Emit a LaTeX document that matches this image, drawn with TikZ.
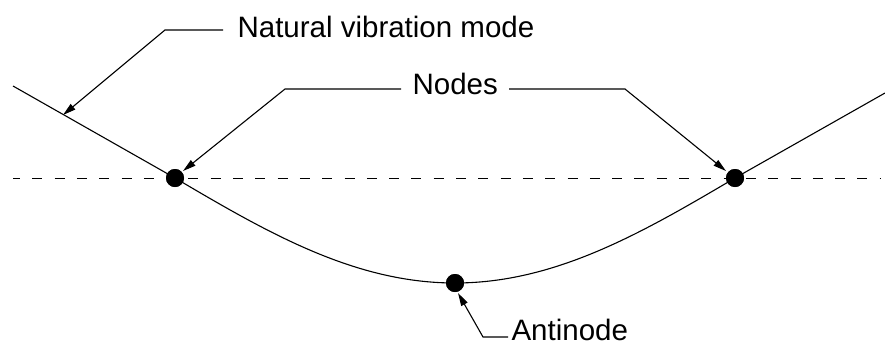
\documentclass[tikz,border=0pt]{standalone}
\usepackage{fontspec}
\setmainfont{Liberation Sans}
\usetikzlibrary{arrows.meta}
\begin{document}
\begin{tikzpicture}[x=1pt,y=-1pt,
  line width=1.1pt,
  dot/.style={circle,fill=black,inner sep=0pt,minimum size=18pt},
  lbl/.style={anchor=base west,inner sep=0pt,font=\fontsize{29.5}{32}\selectfont},
  leader/.style={line width=1.1pt,-{Triangle[length=13pt,width=7pt]}},
  axisline/.style={line width=0.9pt,dash pattern=on 10pt off 12.3pt,dash phase=3pt}]
\useasboundingbox (0,0) rectangle (885,349);
% axis
\coordinate (axL) at (13,178);
\coordinate (axR) at (880,178);
\draw[axisline] (axL) -- (axR);
% mode shape
\coordinate (lEnd) at (13,86);
\coordinate (rEnd) at (885,93);
\node[dot] (n1) at (175,178) {};
\node[dot] (n2) at (735,178) {};
\node[dot] (an) at (455,283) {};
\draw (lEnd) -- (n1.center);
\draw plot[domain=175:735,samples=120] (\x,{178+105*sin((\x-175)*0.3214286)});
\draw (n2.center) -- (rEnd);
\node[dot] at (n1.center) {};
\node[dot] at (n2.center) {};
\node[dot] at (an.center) {};
% labels
\node[lbl] (tMode) at (237,37) {Natural vibration mode};
\node[lbl] (tNodes) at (412,94) {Nodes};
\node[lbl] (tAnti) at (511,340) {Antinode};
% leaders
\coordinate (m0) at (223,30);
\coordinate (m1) at (165,30);
\coordinate (mT) at (63,115);
\draw[leader] (m0) -- (m1) -- (mT);
\coordinate (a0) at (401,89);
\coordinate (a1) at (285,89);
\coordinate (aT) at (183,171);
\draw[leader] (a0) -- (a1) -- (aT);
\coordinate (b0) at (509,89);
\coordinate (b1) at (625,89);
\coordinate (bT) at (726,171);
\draw[leader] (b0) -- (b1) -- (bT);
\coordinate (c0) at (508,337);
\coordinate (c1) at (483,337);
\coordinate (cT) at (458,293);
\draw[leader] (c0) -- (c1) -- (cT);
\end{tikzpicture}
\end{document}
